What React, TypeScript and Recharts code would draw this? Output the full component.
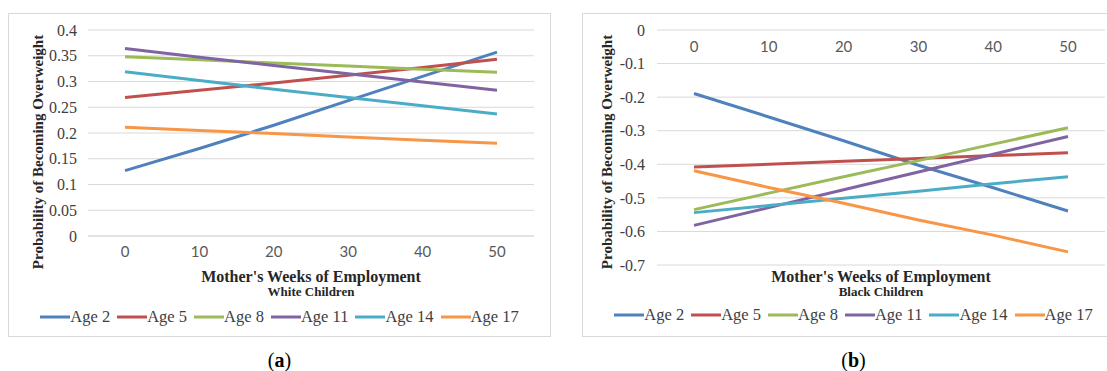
import { CartesianGrid, Legend, Line, LineChart, XAxis, YAxis } from 'recharts';

const weeks = ['0', '10', '20', '30', '40', '50'];
const ages = ['Age 2', 'Age 5', 'Age 8', 'Age 11', 'Age 14', 'Age 17'];
const colors = ['#4F81BD', '#C0504D', '#9BBB59', '#8064A2', '#4BACC6', '#F79646'];

// (a) white children
const whiteAge2 = [0.127, 0.17, 0.215, 0.263, 0.31, 0.357];
const whiteAge5 = [0.269, 0.283, 0.297, 0.312, 0.327, 0.343];
const whiteAge8 = [0.348, 0.342, 0.336, 0.33, 0.324, 0.318];
const whiteAge11 = [0.364, 0.347, 0.331, 0.315, 0.299, 0.283];
const whiteAge14 = [0.319, 0.302, 0.285, 0.269, 0.253, 0.237];
const whiteAge17 = [0.211, 0.205, 0.199, 0.192, 0.186, 0.18];

// (b) black children
const blackAge2 = [-0.189, -0.259, -0.33, -0.403, -0.47, -0.539];
const blackAge5 = [-0.408, -0.4, -0.391, -0.383, -0.374, -0.366];
const blackAge8 = [-0.535, -0.486, -0.437, -0.389, -0.34, -0.291];
const blackAge11 = [-0.582, -0.529, -0.476, -0.423, -0.37, -0.317];
const blackAge14 = [-0.544, -0.523, -0.501, -0.48, -0.458, -0.437];
const blackAge17 = [-0.419, -0.469, -0.516, -0.566, -0.611, -0.661];

const whiteTicks = [0, 0.05, 0.1, 0.15, 0.2, 0.25, 0.3, 0.35, 0.4];
const blackTicks = [0, -0.1, -0.2, -0.3, -0.4, -0.5, -0.6, -0.7];

const buildRows = (series: number[][]) =>
    weeks.map((w, i) => {
        const row: any = { week: w }
        ages.forEach((a, j) => { row[a] = series[j][i] })
        return row
    })

const whiteData = buildRows([whiteAge2, whiteAge5, whiteAge8, whiteAge11, whiteAge14, whiteAge17])
const blackData = buildRows([blackAge2, blackAge5, blackAge8, blackAge11, blackAge14, blackAge17])

const serif = '"Liberation Serif", "Times New Roman", serif'
const grid = '#D9D9D9'

function AgeLegend() {
    return <div style={{ display: 'flex', justifyContent: 'center', fontFamily: serif, fontSize: 16.5, color: '#404040', lineHeight: '18px' }}>
        {ages.map((a, j) => <span key={a} style={{ display: 'flex', alignItems: 'center', marginLeft: j ? 7 : 0 }}>
            <svg width={30} height={4}><line x1={0} y1={2} x2={30} y2={2} stroke={colors[j]} strokeWidth={3} /></svg>
            <span>{a}</span>
        </span>)}
    </div>
}

const WeekTick = (shift: number) => (p: any) =>
    <text x={p.x} y={p.y + shift} dy={shift ? '0.355em' : '0.71em'} textAnchor="middle" fill="#595959" fontSize={15} fontFamily="Lato, sans-serif">
        {p.payload.value}
    </text>

const ValueTick = (p: any) =>
    <text x={p.x} y={p.y} dy="0.355em" textAnchor="end" fill="#404040" fontSize={16} fontFamily={serif}>
        {`${+Number(p.payload.value).toFixed(2)}`}
    </text>

type PanelProps = {
    left: number;
    data: any[];
    domain: [number, number];
    ticks: number[];
    top?: boolean;
    title: string;
    subtitle: string;
    caption: string;
}

function Panel(props: PanelProps) {
    const { left, data, domain, ticks, top, title, subtitle, caption } = props
    const w = 543, h = 324
    const margin = top
        ? { top: 16, right: 20, bottom: 72, left: 35 }
        : { top: 17, right: 17, bottom: 71, left: 40 }
    const plotLeft = margin.left + 40
    const plotRight = w - margin.right
    const mid = (plotLeft + plotRight) / 2

    return <>
        <div style={{ position: 'absolute', left, top: 13, width: w, height: h, border: `1px solid ${grid}`, boxSizing: 'border-box' }} />
        <div style={{ position: 'absolute', left, top: 13 }}>
            <LineChart width={w} height={h} data={data} margin={margin}>
                <CartesianGrid vertical={false} stroke={grid} />
                <XAxis dataKey="week" type="category" orientation={top ? 'top' : 'bottom'} height={top ? 1 : 30}
                    padding={{ left: 37, right: 37 }} tickLine={false} tickSize={0} tickMargin={top ? 0 : 10}
                    axisLine={top ? false : { stroke: grid }} tick={WeekTick(top ? 17 : 0)} />
                <YAxis type="number" domain={domain} ticks={ticks} width={40} axisLine={false} tickLine={false}
                    tickSize={0} tickMargin={top ? 12 : 11} tick={ValueTick} />
                <Legend layout="horizontal" verticalAlign="middle" align="center" content={<AgeLegend />}
                    wrapperStyle={{ top: top ? 293 : 295, left: 0, width: w }} />
                {ages.map((a, j) => <Line key={a} type="linear" dataKey={a} name={a} stroke={colors[j]} strokeWidth={3}
                    dot={false} isAnimationActive={false} />)}
            </LineChart>
        </div>
        <div style={{ position: 'absolute', left: left + (top ? 25 : 30), top: 152, transform: 'translate(-50%, -50%) rotate(-90deg)', whiteSpace: 'nowrap', fontFamily: serif, fontWeight: 'bold', fontSize: 15, color: '#262626' }}>
            Probability of Becoming Overweight
        </div>
        <div style={{ position: 'absolute', left: left + mid, top: 277, transform: 'translate(-50%, -50%)', whiteSpace: 'nowrap', fontFamily: serif, fontWeight: 'bold', fontSize: 16, color: '#262626' }}>
            {title}
        </div>
        <div style={{ position: 'absolute', left: left + mid, top: 292, transform: 'translate(-50%, -50%)', whiteSpace: 'nowrap', fontFamily: serif, fontWeight: 'bold', fontSize: 13, color: '#262626' }}>
            {subtitle}
        </div>
        <div style={{ position: 'absolute', left: left + w / 2, top: 360, transform: 'translate(-50%, -50%)', whiteSpace: 'nowrap', fontFamily: serif, fontSize: 20, color: '#000' }}>
            (<b>{caption}</b>)
        </div>
    </>
}

export default function App() {
    return <div style={{ position: 'absolute', left: 0, top: 0, width: 1107, height: 371, overflow: 'hidden', background: '#fff' }}>
        <Panel left={8} data={whiteData} domain={[0, 0.4]} ticks={whiteTicks}
            title="Mother's Weeks of Employment" subtitle="White Children" caption="a" />
        <Panel left={582} data={blackData} domain={[-0.7, 0]} ticks={blackTicks} top
            title="Mother's Weeks of Employment" subtitle="Black Children" caption="b" />
    </div>
}
